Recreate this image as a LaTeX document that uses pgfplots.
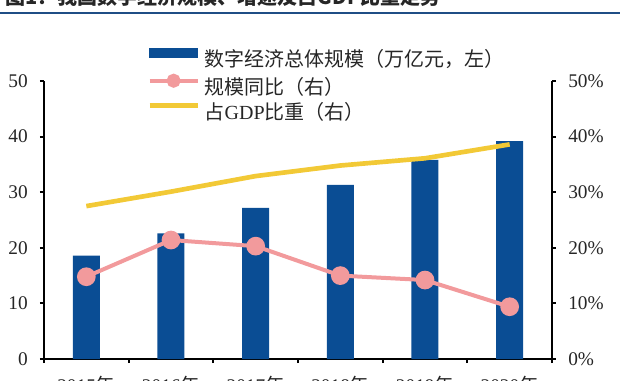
\documentclass[border=0pt]{standalone}
\usepackage{fontspec}
\setmainfont{Liberation Serif}
\newfontfamily\cjk{Noto Sans CJK SC}
\newfontfamily\tms{Liberation Serif}
\usepackage{pgfplots}
\pgfplotsset{compat=1.18}
\definecolor{barblue}{HTML}{0A4D94}
\definecolor{pinkc}{HTML}{F29A9C}
\definecolor{yel}{HTML}{F2C936}
\definecolor{titleblue}{HTML}{1F4E85}
\begin{document}
\begin{tikzpicture}
\path[use as bounding box] (0,0) rectangle (480pt,285pt);
\clip (0,0) rectangle (480pt,285pt);
\draw[titleblue, line width=1.8pt] (0,275.25pt) -- (465pt,275.25pt);
\node[anchor=base west, inner sep=0pt, font=\cjk\bfseries\fontsize{15pt}{18pt}\selectfont, text=black!85] at (4pt,282pt) {图1：我国数字经济规模、增速及占GDP比重走势};
\pgfplotsset{
  common/.style={
    at={(33pt,15.75pt)}, anchor=south west,
    scale only axis, width=381pt, height=208.5pt,
    xmin=-0.5, xmax=5.5, ymin=0, ymax=50,
    ytick={0,10,...,50},
    tick align=outside,
    major tick length=3pt, minor tick length=3pt,
    axis line style={line width=1.5pt, black},
    every tick/.style={line width=1.5pt, black},
    tick label style={font=\tms\fontsize{14.5pt}{17pt}\selectfont, text=black!85},
    /pgf/number format/assume math mode=true,
    clip=false,
  }
}
\begin{axis}[common,
  axis y line*=left, axis x line*=bottom,
  xtick={0,...,5},
  xticklabels={{2015{\cjk 年}},{2016{\cjk 年}},{2017{\cjk 年}},{2018{\cjk 年}},{2019{\cjk 年}},{2020{\cjk 年}}},
  major x tick style={draw=none},
  minor xtick={-0.5,0.5,...,5.5},
  xticklabel style={anchor=north, inner sep=0pt, yshift=-10pt},
  yticklabel style={anchor=east, inner sep=0pt, xshift=-9pt},
]
\addplot[ybar, bar width=20.25pt, fill=barblue, draw=none] coordinates {(0,18.6)(1,22.6)(2,27.2)(3,31.3)(4,35.8)(5,39.2)};
\end{axis}
\begin{axis}[common,
  axis y line*=right, axis x line=none,
  yticklabel={\pgfmathprintnumber{\tick}\%},
  yticklabel style={anchor=west, inner sep=0pt, xshift=9pt},
  legend style={at={(0.2028,1.12)}, anchor=north west, draw=none, fill=none, inner sep=0pt,
    font=\cjk\fontsize{15pt}{18pt}\selectfont, text=black!85,
    nodes={inner sep=0pt, text height=13pt, text depth=3pt}, row sep=2.75pt},
  legend cell align=left,
  /tikz/every odd column/.append style={column sep=3.5pt},
]
\addlegendimage{legend image code/.code={\fill[barblue] (0pt,1.6pt) rectangle (36pt,8.4pt);}}
\addlegendentry{数字经济总体规模（万亿元，左）}
\addplot[pinkc, line width=3pt, mark=*, mark size=5.5pt, mark options={fill=pinkc, draw=none},
  legend image code/.code={\draw[pinkc, line width=3pt] (0pt,5pt) -- (36pt,5pt); \fill[pinkc] (18pt,5pt) circle (3.75pt);}]
  coordinates {(0,14.8)(1,21.4)(2,20.3)(3,15.0)(4,14.2)(5,9.4)};
\addlegendentry{规模同比（右）}
\addplot[yel, line width=3.5pt,
  legend image code/.code={\draw[yel, line width=3.5pt] (0pt,5pt) -- (36pt,5pt);}]
  coordinates {(0,27.5)(1,30.1)(2,32.9)(3,34.8)(4,36.1)(5,38.6)};
\addlegendentry{占{\tms GDP}比重（右）}
\end{axis}
\end{tikzpicture}
\end{document}
